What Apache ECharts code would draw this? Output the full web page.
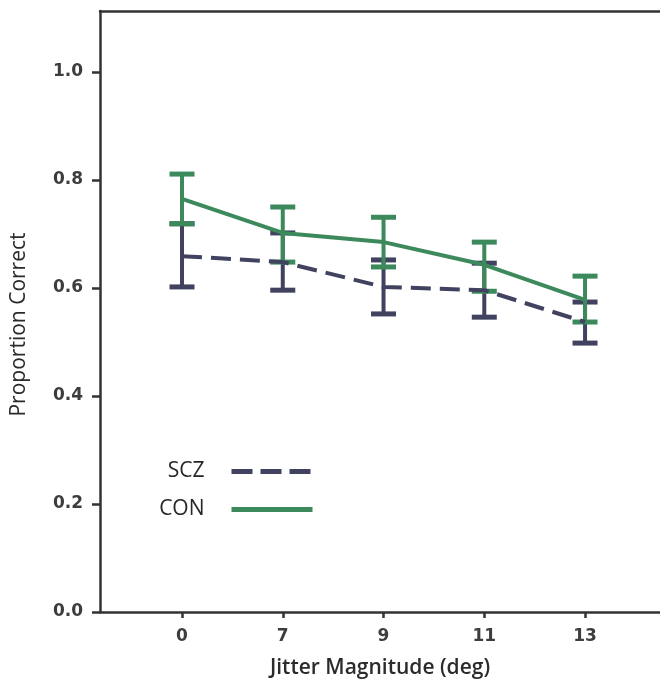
<!DOCTYPE html>
<html>
<head>
<meta charset="utf-8">
<script src="https://cdn.jsdelivr.net/npm/echarts@6/dist/echarts.min.js"></script>
<style>
  html, body { margin: 0; padding: 0; background: #fff; }
  #chart { width: 660px; height: 685px; }
</style>
</head>
<body>
<div id="chart"></div>
<script>
const jitter = ['0', '7', '9', '11', '13']
const yTicks = [0, 0.2, 0.4, 0.6, 0.8, 1.0]

const sczMean = [0.659, 0.648, 0.602, 0.596, 0.537]
const sczLow = [0.602, 0.596, 0.552, 0.546, 0.498]
const sczHigh = [0.719, 0.702, 0.652, 0.646, 0.574]

const conMean = [0.765, 0.702, 0.685, 0.643, 0.578]
const conLow = [0.719, 0.648, 0.639, 0.594, 0.537]
const conHigh = [0.811, 0.750, 0.731, 0.685, 0.622]

const SCZ_COLOR = '#414260'
const CON_COLOR = '#3c8a5c'
const AXIS_COLOR = '#333'
const SCZ_DASH = [20, 9]

const chart = echarts.init(document.getElementById('chart'))

// x positions are just the category index, the axis is a value axis so the
// first point can sit away from the y axis like in the figure
const pts = (arr) => arr.map((v, i) => [i, v])
const bars = (lo, hi) => lo.map((v, i) => [i, v, hi[i]])

function errorBar(color) {
  return (params, api) => {
    const lo = api.coord([api.value(0), api.value(1)])
    const hi = api.coord([api.value(0), api.value(2)])
    const half = 12.5
    const style = { stroke: color, lineWidth: 4 }
    const cap = { stroke: color, lineWidth: 5 }
    return {
      type: 'group',
      children: [
        { type: 'line', shape: { x1: lo[0], y1: lo[1], x2: hi[0], y2: hi[1] }, style },
        { type: 'line', shape: { x1: lo[0] - half, y1: lo[1], x2: lo[0] + half, y2: lo[1] }, style: cap },
        { type: 'line', shape: { x1: hi[0] - half, y1: hi[1], x2: hi[0] + half, y2: hi[1] }, style: cap }
      ]
    }
  }
}

const legendBase = {
  orient: 'vertical',
  align: 'right',
  right: 345,
  padding: 0,
  itemWidth: 81,
  itemHeight: 14,
  selectedMode: false,
  // line series always put a symbol in the legend icon, hide it
  itemStyle: { opacity: 0 },
  textStyle: {
    fontFamily: 'Open Sans, sans-serif',
    fontSize: 21,
    color: '#262626',
    padding: [0, 22, 0, 0]
  }
}

const tickLabelStyle = {
  fontFamily: 'DejaVu Sans',
  fontWeight: 'bold',
  fontSize: 17,
  color: '#3d3d3d'
}

const option = {
  animation: false,
  backgroundColor: '#fff',
  grid: { left: 100, right: 0, top: 11, bottom: 73 },
  legend: [
    { ...legendBase, top: 461, data: ['SCZ'], lineStyle: { width: 5, type: [21, 8] } },
    { ...legendBase, top: 499, data: ['CON'], lineStyle: { width: 5 } }
  ],
  xAxis: [{
    type: 'value',
    min: -0.814,
    max: 4.744,
    name: 'Jitter Magnitude (deg)',
    nameLocation: 'middle',
    nameGap: 46,
    nameTextStyle: { fontFamily: 'Open Sans', fontSize: 21, fontWeight: 600, color: '#2b2b2b' },
    splitLine: { show: false },
    axisLine: { onZero: false, lineStyle: { color: AXIS_COLOR, width: 2.5 } },
    axisTick: { customValues: [0, 1, 2, 3, 4], length: 6, lineStyle: { color: AXIS_COLOR, width: 2.5 } },
    axisLabel: {
      ...tickLabelStyle,
      customValues: [0, 1, 2, 3, 4],
      formatter: (v) => jitter[v],
      margin: 16
    }
  }, {
    type: 'value',
    position: 'top',
    min: -0.814,
    max: 4.744,
    splitLine: { show: false },
    axisLine: { show: true, onZero: false, lineStyle: { color: AXIS_COLOR, width: 2.5 } },
    axisTick: { show: false },
    axisLabel: { show: false }
  }],
  yAxis: {
    type: 'value',
    min: 0,
    max: 1.113,
    name: 'Proportion Correct',
    nameLocation: 'middle',
    nameGap: 70,
    nameTextStyle: { fontFamily: 'Open Sans', fontSize: 21, color: '#2b2b2b', padding: [0, 26, 0, 0] },
    splitLine: { show: false },
    axisLine: { show: true, onZero: false, lineStyle: { color: AXIS_COLOR, width: 2.5 } },
    axisTick: { customValues: yTicks, length: 8, lineStyle: { color: AXIS_COLOR, width: 2.5 } },
    axisLabel: {
      ...tickLabelStyle,
      customValues: yTicks,
      formatter: (v) => v.toFixed(1),
      margin: 17
    }
  },
  series: [
    {
      name: 'SCZ err',
      type: 'custom',
      renderItem: errorBar(SCZ_COLOR),
      data: bars(sczLow, sczHigh),
      encode: { x: 0, y: [1, 2] }
    },
    {
      name: 'SCZ',
      type: 'line',
      data: pts(sczMean),
      symbol: 'none',
      color: SCZ_COLOR,
      lineStyle: { color: SCZ_COLOR, width: 4, type: SCZ_DASH }
    },
    {
      name: 'CON err',
      type: 'custom',
      renderItem: errorBar(CON_COLOR),
      data: bars(conLow, conHigh),
      encode: { x: 0, y: [1, 2] }
    },
    {
      name: 'CON',
      type: 'line',
      data: pts(conMean),
      symbol: 'none',
      color: CON_COLOR,
      lineStyle: { color: CON_COLOR, width: 4 }
    }
  ]
}

chart.setOption(option)
</script>
</body>
</html>
